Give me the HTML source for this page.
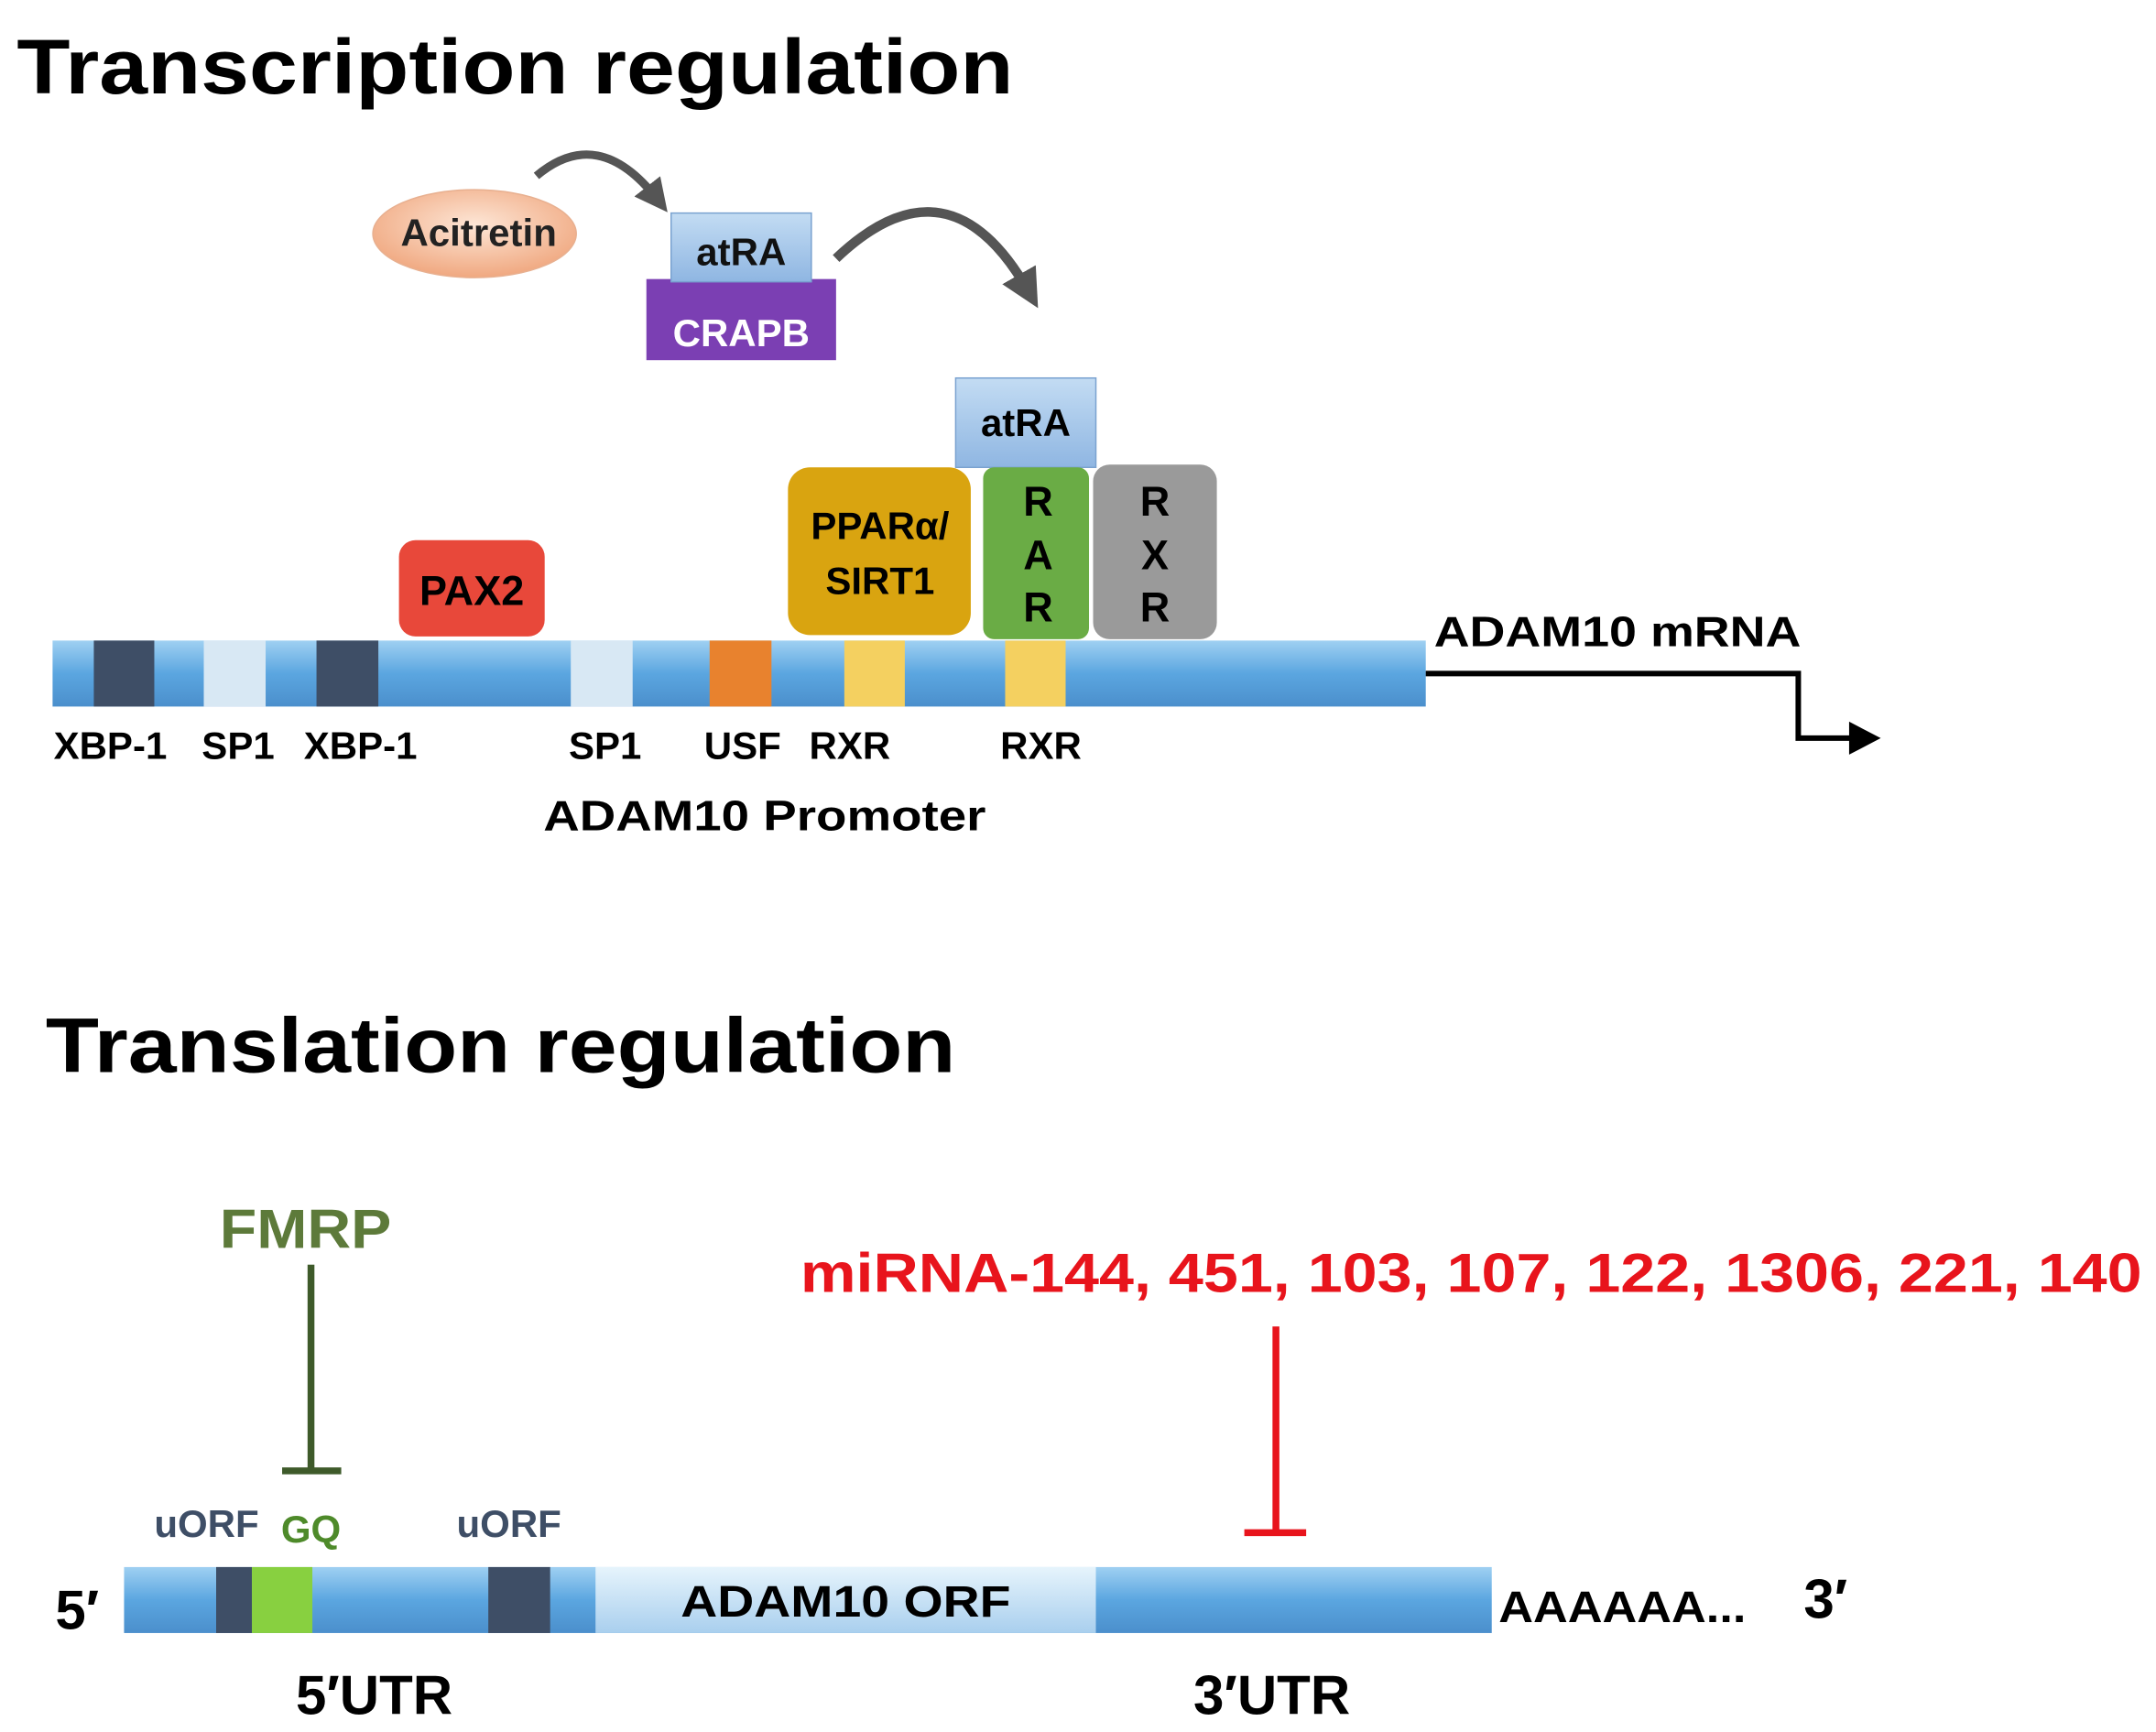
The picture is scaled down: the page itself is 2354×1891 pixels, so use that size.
<!DOCTYPE html>
<html><head><style>html,body{margin:0;padding:0;background:#fff}svg{display:block}</style></head><body>
<svg width="2354" height="1891" viewBox="0 0 1568 1260" xmlns="http://www.w3.org/2000/svg" font-family="Liberation Sans, sans-serif" font-weight="bold">
<defs>
<linearGradient id="bl" x1="0" y1="0" x2="0" y2="1"><stop offset="0" stop-color="#9fd0f2"/><stop offset=".5" stop-color="#5ba6e0"/><stop offset="1" stop-color="#4b8fcc"/></linearGradient>
<linearGradient id="lb" x1="0" y1="0" x2="0" y2="1"><stop offset="0" stop-color="#e6f4fc"/><stop offset="1" stop-color="#a9cfee"/></linearGradient>
<linearGradient id="at" x1="0" y1="0" x2="0" y2="1"><stop offset="0" stop-color="#c3dcf3"/><stop offset="1" stop-color="#8fb6e2"/></linearGradient>
<radialGradient id="pe" cx=".5" cy=".4" r=".6"><stop offset="0" stop-color="#fde6d6"/><stop offset="1" stop-color="#f0a880"/></radialGradient>
<marker id="ah" markerWidth="4" markerHeight="4" refX="2" refY="2" orient="auto"><path d="M0,0 L4,2 L0,4z" fill="#555"/></marker>
</defs>
<text x="12" y="68" font-size="56" textLength="725" lengthAdjust="spacingAndGlyphs">Transcription regulation</text>
<ellipse cx="345" cy="170" rx="74" ry="32" fill="url(#pe)" stroke="#e8b090"/>
<text x="348" y="179" font-size="28" text-anchor="middle" fill="#222">Acitretin</text>
<path d="M390,128 Q435,90 478,145" fill="none" stroke="#555" stroke-width="6" marker-end="url(#ah)"/>
<rect x="470" y="203" width="138" height="59" fill="#7b3fb3"/>
<text x="539" y="252" font-size="28" text-anchor="middle" fill="#fff">CRAPB</text>
<rect x="488" y="155" width="102" height="50" fill="url(#at)" stroke="#7aa2d0"/>
<text x="539" y="193" font-size="28" text-anchor="middle" fill="#111">atRA</text>
<path d="M608,188 Q690,110 748,212" fill="none" stroke="#555" stroke-width="7" marker-end="url(#ah)"/>
<rect x="38" y="466" width="999" height="48" fill="url(#bl)"/>
<rect x="68" y="466" width="44" height="48" fill="#3e4e66"/>
<rect x="148" y="466" width="45" height="48" fill="#d8e8f4"/>
<rect x="230" y="466" width="45" height="48" fill="#3e4e66"/>
<rect x="415" y="466" width="45" height="48" fill="#d8e8f4"/>
<rect x="516" y="466" width="45" height="48" fill="#e8822e"/>
<rect x="614" y="466" width="44" height="48" fill="#f4d060"/>
<rect x="731" y="466" width="44" height="48" fill="#f4d060"/>
<rect x="290" y="393" width="106" height="70" rx="12" fill="#e8483a"/>
<text x="343" y="440" font-size="30" text-anchor="middle">PAX2</text>
<rect x="695" y="275" width="102" height="65" fill="url(#at)" stroke="#7aa2d0"/>
<text x="746" y="317" font-size="28" text-anchor="middle">atRA</text>
<rect x="573" y="340" width="133" height="122" rx="16" fill="#d9a410"/>
<text x="640" y="392" font-size="28" text-anchor="middle">PPARα/</text>
<text x="640" y="432" font-size="28" text-anchor="middle">SIRT1</text>
<rect x="715" y="340" width="77" height="125" rx="8" fill="#6aac45"/>
<rect x="795" y="338" width="90" height="127" rx="12" fill="#9a9a9a"/>
<g font-size="30" text-anchor="middle"><text x="755" y="375">R</text><text x="755" y="414">A</text><text x="755" y="452">R</text>
<text x="840" y="375">R</text><text x="840" y="414">X</text><text x="840" y="452">R</text></g>
<g font-size="28" text-anchor="middle"><text x="80" y="552">XBP-1</text><text x="173" y="552">SP1</text><text x="262" y="552">XBP-1</text><text x="440" y="552">SP1</text><text x="540" y="552">USF</text><text x="618" y="552">RXR</text><text x="757" y="552">RXR</text>
<text x="556" y="604" font-size="31" textLength="322" lengthAdjust="spacingAndGlyphs">ADAM10  Promoter</text></g>
<text x="1043" y="470" font-size="31" textLength="267" lengthAdjust="spacingAndGlyphs">ADAM10  mRNA</text>
<path d="M1037,490 H1308 V537 H1350" fill="none" stroke="#000" stroke-width="4"/>
<path d="M1345,525 L1368,537 L1345,549z" fill="#000"/>
<text x="33" y="780" font-size="56" textLength="662" lengthAdjust="spacingAndGlyphs">Translation regulation</text>
<text x="222" y="908" font-size="40" text-anchor="middle" fill="#5d7a3a" textLength="125" lengthAdjust="spacingAndGlyphs">FMRP</text>
<path d="M226,920 V1070 M205,1070 H248" stroke="#3e5a2a" stroke-width="5"/>
<text x="582" y="940" font-size="40" fill="#e8141c" textLength="976" lengthAdjust="spacingAndGlyphs">miRNA-144, 451, 103, 107, 122, 1306, 221, 140</text>
<path d="M928,965 V1115 M905,1115 H950" stroke="#e8141c" stroke-width="5"/>
<rect x="90" y="1140" width="995" height="48" fill="url(#bl)"/>
<rect x="433" y="1140" width="364" height="48" fill="url(#lb)"/>
<rect x="157" y="1140" width="26" height="48" fill="#3e4e66"/>
<rect x="183" y="1140" width="44" height="48" fill="#88d040"/>
<rect x="355" y="1140" width="45" height="48" fill="#3e4e66"/>
<text x="615" y="1176" font-size="32" text-anchor="middle" textLength="240" lengthAdjust="spacingAndGlyphs">ADAM10  ORF</text>
<text x="150" y="1118" font-size="28" text-anchor="middle" fill="#3e4e66">uORF</text>
<text x="226" y="1122" font-size="28" text-anchor="middle" fill="#4e8a2a">GQ</text>
<text x="370" y="1118" font-size="28" text-anchor="middle" fill="#3e4e66">uORF</text>
<text x="40" y="1185" font-size="40">5′</text>
<text x="1090" y="1180" font-size="32" textLength="180" lengthAdjust="spacingAndGlyphs">AAAAAA...</text>
<text x="1312" y="1177" font-size="40">3′</text>
<text x="272" y="1247" font-size="40" text-anchor="middle">5′UTR</text>
<text x="925" y="1247" font-size="40" text-anchor="middle">3′UTR</text>
</svg>
</body></html>
